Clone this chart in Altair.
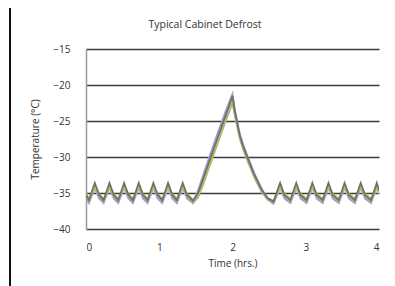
import altair as alt
import pandas as pd

# Shared time points (hrs.)
time_hrs = [0.00, 0.04, 0.12, 0.18, 0.24, 0.32, 0.38, 0.44, 0.52, 0.58,
            0.64, 0.72, 0.78, 0.84, 0.92, 0.98, 1.04, 1.12, 1.18, 1.24,
            1.32, 1.38, 1.46, 1.53, 1.60, 1.70, 1.80, 1.90, 2.00, 2.03,
            2.06, 2.10, 2.15, 2.21, 2.30, 2.40, 2.48, 2.56, 2.65, 2.71,
            2.79, 2.87, 2.93, 3.01, 3.09, 3.15, 3.23, 3.31, 3.37, 3.45,
            3.53, 3.59, 3.67, 3.75, 3.81, 3.89, 3.97, 4.00]

# Temperature series (°C)
temp_dark = [-35.3, -36.0, -33.6, -35.3, -36.0, -33.6, -35.3, -36.0, -33.6, -35.3,
             -36.0, -33.6, -35.3, -36.0, -33.6, -35.3, -36.0, -33.6, -35.3, -36.0,
             -33.6, -35.3, -36.1, -35.0, -33.0, -30.1, -27.2, -24.4, -21.5, -23.5,
             -25.0, -27.0, -28.6, -30.2, -32.5, -34.6, -35.7, -36.2, -33.6, -35.3,
             -36.0, -33.6, -35.3, -36.0, -33.6, -35.3, -36.0, -33.6, -35.3, -36.0,
             -33.6, -35.3, -36.0, -33.6, -35.3, -36.0, -33.6, -34.6]

temp_light = [-35.6, -36.3, -34.0, -35.6, -36.3, -34.0, -35.6, -36.3, -34.0, -35.6,
              -36.3, -34.0, -35.6, -36.3, -34.0, -35.6, -36.3, -34.0, -35.6, -36.3,
              -34.0, -35.6, -36.4, -35.6, -33.8, -30.9, -28.0, -25.2, -22.5, -24.2,
              -25.6, -27.5, -29.1, -30.7, -32.9, -34.9, -35.9, -36.4, -34.0, -35.6,
              -36.3, -34.0, -35.6, -36.3, -34.0, -35.6, -36.3, -34.0, -35.6, -36.3,
              -34.0, -35.6, -36.3, -34.0, -35.6, -36.3, -34.0, -35.0]

temp_green = [-35.1, -35.8, -34.2, -35.1, -35.8, -34.2, -35.1, -35.8, -34.2, -35.1,
              -35.8, -34.2, -35.1, -35.8, -34.2, -35.1, -35.8, -34.2, -35.1, -35.8,
              -34.2, -35.1, -35.9, -35.4, -33.5, -30.6, -27.6, -24.8, -22.0, -23.8,
              -25.3, -27.2, -28.8, -30.4, -32.7, -34.7, -35.7, -36.1, -34.2, -35.1,
              -35.8, -34.2, -35.1, -35.8, -34.2, -35.1, -35.8, -34.2, -35.1, -35.8,
              -34.2, -35.1, -35.8, -34.2, -35.1, -35.8, -34.2, -34.9]

temp_blue = [-35.8, -36.4, -34.3, -35.8, -36.4, -34.3, -35.8, -36.4, -34.3, -35.8,
             -36.4, -34.3, -35.8, -36.4, -34.3, -35.8, -36.4, -34.3, -35.8, -36.4,
             -34.3, -35.8, -36.4, -34.6, -32.5, -29.5, -26.6, -23.8, -21.2, -23.3,
             -24.8, -26.8, -28.4, -30.0, -32.3, -34.4, -35.9, -36.5, -34.3, -35.8,
             -36.4, -34.3, -35.8, -36.4, -34.3, -35.8, -36.4, -34.3, -35.8, -36.4,
             -34.3, -35.8, -36.4, -34.3, -35.8, -36.4, -34.3, -35.2]

series_names = ["blue", "light", "green", "dark"]
series_colors = ["#a0a0d8", "#a8a8a8", "#b8cc30", "#707070"]
series_values = [temp_blue, temp_light, temp_green, temp_dark]

y_ticks = [-40, -35, -30, -25, -20, -15]
x_ticks = [0, 1, 2, 3, 4]
chart_title = "Typical Cabinet Defrost"

rows = []
for order, (name, vals) in enumerate(zip(series_names, series_values)):
    for t, v in zip(time_hrs, vals):
        rows.append({"series": name, "order": order, "t": t, "temp": v})
df = pd.DataFrame(rows)

FONT = "Open Sans"

lines = alt.Chart(df).mark_line(strokeWidth=1.8, clip=True).encode(
    x=alt.X("t:Q",
            scale=alt.Scale(domain=[0, 4], nice=False, zero=False),
            axis=alt.Axis(values=x_ticks, title="Time (hrs.)", grid=False,
                          ticks=False, domain=False, labelPadding=13,
                          titlePadding=6, format="d")),
    y=alt.Y("temp:Q",
            scale=alt.Scale(domain=[-40, -15], nice=False, zero=False),
            axis=alt.Axis(values=y_ticks, title="Temperature (°C)", grid=True,
                          gridColor="#3a3a3a", gridWidth=1.5, gridOpacity=1,
                          ticks=False, domain=True, domainColor="#9a9a9a",
                          domainWidth=1.5, labelPadding=16, titlePadding=12)),
    color=alt.Color("series:N",
                    scale=alt.Scale(domain=series_names, range=series_colors),
                    legend=None),
    detail="series:N",
    order=alt.Order("order:Q"),
)

border = alt.Chart(pd.DataFrame({"a": [0]})).mark_rule(
    color="#111111", strokeWidth=2
).encode(x=alt.value(-76), y=alt.value(-41), y2=alt.value(240))

title = alt.Chart(pd.DataFrame({"label": [chart_title]})).mark_text(
    font=FONT, fontSize=10.5, color="#333333", align="center", baseline="middle"
).encode(x=alt.value(119), y=alt.value(-24), text="label:N")

chart = alt.layer(lines, border, title).properties(
    width=293,
    height=180,
    padding={"left": 78, "top": 41, "right": 8, "bottom": 57},
    autosize=alt.AutoSizeParams(type="none"),
).configure_view(stroke=None).configure_axis(
    labelFont=FONT, titleFont=FONT, labelFontSize=10, titleFontSize=10,
    labelColor="#333333", titleColor="#333333", titleFontWeight="normal",
)

chart.save("out.html", embed_options={"renderer": "svg", "actions": False})
